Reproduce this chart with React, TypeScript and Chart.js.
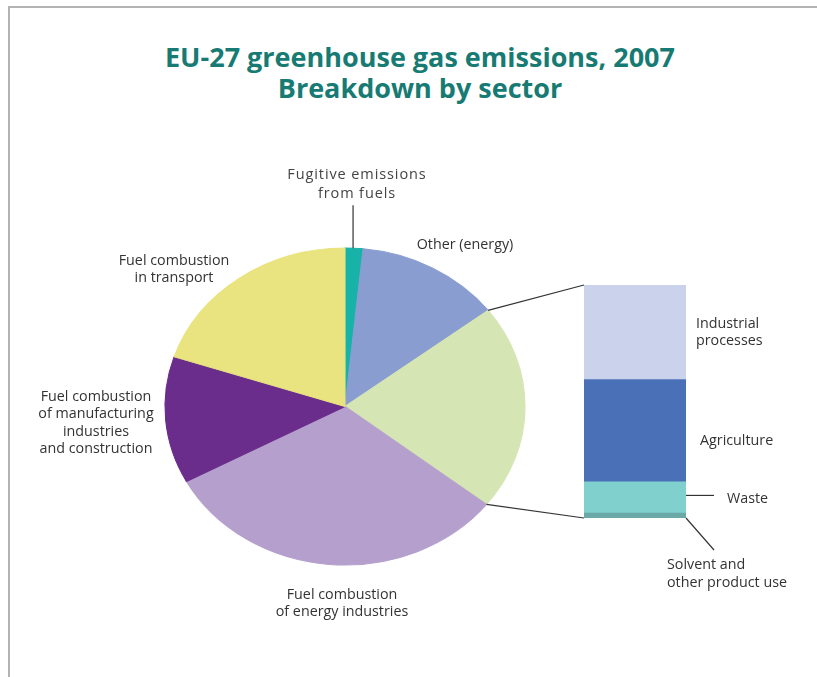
import React, { useEffect, useRef } from "react";
import { Chart, registerables } from "chart.js";

Chart.register(...registerables);

// ---------------- data ----------------
const barCategories = [
  "Solvent and other product use",
  "Waste",
  "Agriculture",
  "Industrial processes",
];
const barShares = [0.45, 2.8, 9.2, 8.5];
const barTotal = barShares.reduce((a, b) => a + b, 0);

const pieCategories = [
  "Fugitive emissions from fuels",
  "Other (energy)",
  "Non-energy sectors",
  "Fuel combustion of energy industries",
  "Fuel combustion of manufacturing industries and construction",
  "Fuel combustion in transport",
];
const pieShares = [1.6, 13.0, barTotal, 31.5, 12.9, 19.9];

// ---------------- styles ----------------
const pieColors = ["#17b3a8", "#8a9dd0", "#d5e6b4", "#b5a0cd", "#6b2d8c", "#e9e47f"];
const barColors = ["#6aa9a6", "#80d0ce", "#4a70b8", "#cad2ec"];
const W = 817;
const H = 677;
const ELLIPSE_X = 180 / 158.5;
const LINE_COLOR = "#333333";
const TEXT_COLOR = "#333333";
const FONT = "'Open Sans', 'Noto Sans', sans-serif";

const ellipsePlugin = {
  id: "ellipse",
  beforeDatasetsDraw(chart: any) {
    const { ctx, chartArea } = chart;
    const cx = (chartArea.left + chartArea.right) / 2;
    const cy = (chartArea.top + chartArea.bottom) / 2;
    ctx.save();
    ctx.translate(cx, cy);
    ctx.scale(ELLIPSE_X, 1);
    ctx.translate(-cx, -cy);
  },
  afterDatasetsDraw(chart: any) {
    chart.ctx.restore();
  },
};

type Lbl = {
  lines: string[];
  x: number;
  y: number;
  align: "center" | "left";
  lh: number;
  size?: number;
  spacing?: number;
  color?: string;
};

const labels: Lbl[] = [
  { lines: ["Fugitive emissions", "from fuels"], x: 357, y: 182.5, align: "center", lh: 19, size: 14.5, spacing: 0.9, color: "#444" },
  { lines: ["Other (energy)"], x: 465, y: 243, align: "center", lh: 17 },
  { lines: ["Fuel combustion", "in transport"], x: 174, y: 268, align: "center", lh: 16.5 },
  { lines: ["Fuel combustion", "of manufacturing", "industries", "and construction"], x: 96, y: 422, align: "center", lh: 17.3 },
  { lines: ["Fuel combustion", "of energy industries"], x: 342, y: 601.5, align: "center", lh: 17 },
  { lines: ["Industrial", "processes"], x: 696, y: 331, align: "left", lh: 16.5 },
  { lines: ["Agriculture"], x: 700, y: 439, align: "left", lh: 17 },
  { lines: ["Waste"], x: 727, y: 497, align: "left", lh: 17 },
  { lines: ["Solvent and", "other product use"], x: 667, y: 572.5, align: "left", lh: 18 },
];

export default function App() {
  const pieRef = useRef<HTMLCanvasElement | null>(null);
  const barRef = useRef<HTMLCanvasElement | null>(null);

  useEffect(() => {
    if (!pieRef.current || !barRef.current) return;

    const pie = new Chart(pieRef.current, {
      type: "pie",
      data: {
        labels: pieCategories,
        datasets: [
          {
            data: pieShares,
            backgroundColor: pieColors,
            borderColor: pieColors,
            borderWidth: 1,
            clip: false as any,
          },
        ],
      },
      options: {
        animation: false,
        responsive: false,
        events: [],
        layout: { padding: { left: 165, right: W - 525, top: 247.5, bottom: H - 565.5 } },
        plugins: { legend: { display: false }, tooltip: { enabled: false } },
      },
      plugins: [ellipsePlugin],
    });

    const connectorPlugin = {
      id: "connectors",
      afterDatasetsDraw(chart: any) {
        const ctx = chart.ctx;
        const pm = pie.getDatasetMeta(0);
        const pt = (el: any, a: number) => {
          const p = el.getProps(["x", "y", "outerRadius"], true);
          return [p.x + Math.cos(a) * p.outerRadius * ELLIPSE_X, p.y + Math.sin(a) * p.outerRadius];
        };
        const nonEnergy: any = pm.data[2];
        const ne = nonEnergy.getProps(["startAngle", "endAngle"], true);
        const fug: any = pm.data[0];
        const fa = fug.getProps(["startAngle", "endAngle"], true);

        const topEl: any = chart.getDatasetMeta(3).data[0];
        const botEl: any = chart.getDatasetMeta(0).data[0];
        const wasteEl: any = chart.getDatasetMeta(1).data[0];
        const tp = topEl.getProps(["x", "y", "width"], true);
        const bp = botEl.getProps(["x", "base", "width"], true);
        const wp = wasteEl.getProps(["y", "base"], true);
        const left = tp.x - tp.width / 2;
        const right = tp.x + tp.width / 2;

        ctx.save();
        ctx.strokeStyle = LINE_COLOR;
        ctx.lineWidth = 1.2;
        const line = (x1: number, y1: number, x2: number, y2: number) => {
          ctx.beginPath();
          ctx.moveTo(x1, y1);
          ctx.lineTo(x2, y2);
          ctx.stroke();
        };
        const s = pt(nonEnergy, ne.startAngle);
        const e = pt(nonEnergy, ne.endAngle);
        line(s[0], s[1], left, tp.y);
        line(e[0], e[1], left, bp.base);
        // fugitive leader
        const f = pt(fug, (fa.startAngle + fa.endAngle) / 2);
        line(f[0] - 1, f[1], f[0] - 1, f[1] - 43);
        // waste leader
        const wy = (wp.y + wp.base) / 2 - 2;
        line(right, wy, right + 28, wy);
        // solvent leader
        line(right, bp.base, right + 28, bp.base + 32);
        ctx.restore();
      },
    };

    const bar = new Chart(barRef.current, {
      type: "bar",
      data: {
        labels: ["Non-energy sectors"],
        datasets: barCategories.map((c, i) => ({
          label: c,
          data: [barShares[i]],
          backgroundColor: barColors[i],
          borderWidth: 0,
          barPercentage: 1,
          categoryPercentage: 1,
        })),
      },
      options: {
        animation: false,
        responsive: false,
        events: [],
        layout: { padding: { left: 584, right: W - 686, top: 285, bottom: H - 518 } },
        scales: {
          x: { stacked: true, display: false },
          y: { stacked: true, display: false, min: 0, max: barTotal },
        },
        plugins: { legend: { display: false }, tooltip: { enabled: false } },
      },
      plugins: [connectorPlugin],
    });

    return () => {
      bar.destroy();
      pie.destroy();
    };
  }, []);

  return (
    <div
      style={{
        position: "absolute",
        left: 0,
        top: 0,
        width: W,
        height: H,
        overflow: "hidden",
        background: "#ffffff",
        fontFamily: FONT,
      }}
    >
      <div
        style={{
          position: "absolute",
          left: 8,
          top: 6,
          width: W - 8,
          height: H - 6,
          borderLeft: "2px solid #b3b3b3",
          borderTop: "2px solid #b3b3b3",
          boxSizing: "border-box",
        }}
      />
      <div
        style={{
          position: "absolute",
          left: 0,
          width: 840,
          top: 41,
          textAlign: "center",
          color: "#177b73",
          fontWeight: 700,
          fontSize: 27,
          lineHeight: "31px",
          whiteSpace: "nowrap",
        }}
      >
        <div>EU-27 greenhouse gas emissions, 2007</div>
        <div>Breakdown by sector</div>
      </div>
      <canvas ref={pieRef} width={W} height={H} style={{ position: "absolute", left: 0, top: 0, width: W, height: H }} />
      <canvas ref={barRef} width={W} height={H} style={{ position: "absolute", left: 0, top: 0, width: W, height: H }} />
      {labels.map((l, i) => (
        <div
          key={i}
          style={{
            position: "absolute",
            left: l.x,
            top: l.y,
            transform: l.align === "center" ? "translate(-50%, -50%)" : "translate(0, -50%)",
            textAlign: l.align,
            fontSize: l.size ?? 14.3,
            letterSpacing: l.spacing ?? 0,
            lineHeight: `${l.lh}px`,
            color: l.color ?? TEXT_COLOR,
            whiteSpace: "nowrap",
          }}
        >
          {l.lines.map((t, j) => (
            <div key={j}>{t}</div>
          ))}
        </div>
      ))}
    </div>
  );
}
